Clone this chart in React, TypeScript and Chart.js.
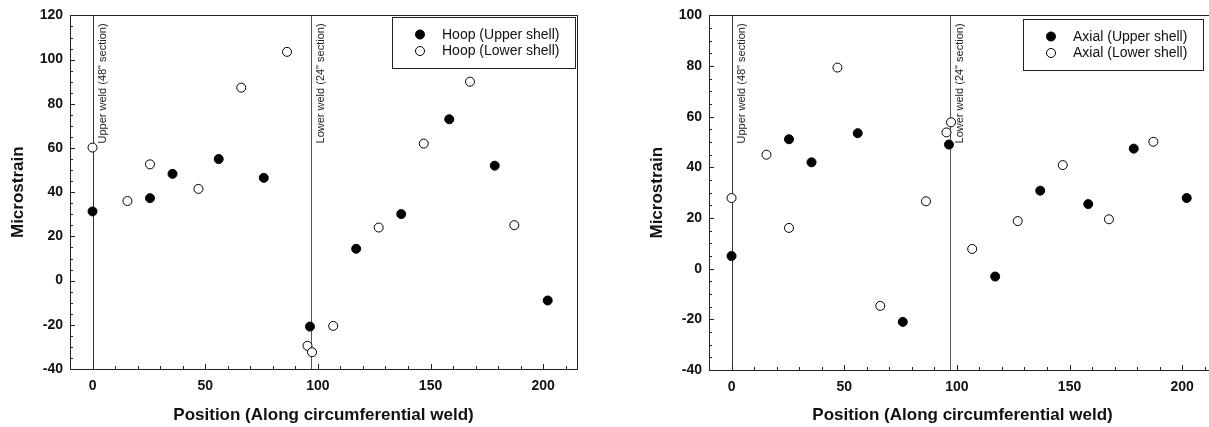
import React, { useEffect, useRef } from "react";
import { Chart, registerables } from "chart.js";

Chart.register(...registerables);

// ---- Data ----
const upperShellPositions = [0, 25.5, 35.5, 56, 76, 96.5, 117, 137, 158.3, 178.5, 202];
const lowerShellPositions = [0, 15.5, 25.5, 47, 66, 86.3, 95.4, 97.4, 106.8, 127, 147, 167.5, 187.2];

const hoopUpper = [31.3, 37.3, 48.3, 55, 46.5, -20.8, 14.4, 30.1, 73, 52, -9];
const hoopLower = [60.2, 36, 52.6, 41.5, 87.3, 103.5, -29.5, -32.4, -20.5, 24, 62, 90, 25.1];

const axialUpper = [5, 51.1, 42, 53.5, -21, 49, -3.1, 30.8, 25.5, 47.4, 27.9];
const axialLower = [27.9, 45, 16.1, 79.4, -14.7, 26.6, 53.8, 57.8, 7.8, 18.8, 40.9, 19.5, 50.1];

const weldPositions = [0, 96.9];
const weldLabels = ['Upper weld (48" section)', 'Lower weld (24" section)'];

const xTickValues = [0, 50, 100, 150, 200];
const hoopYTicks = [-40, -20, 0, 20, 40, 60, 80, 100, 120];
const axialYTicks = [-40, -20, 0, 20, 40, 60, 80, 100];

const hoopLabels = ["Hoop (Upper shell)", "Hoop (Lower shell)"];
const axialLabels = ["Axial (Upper shell)", "Axial (Lower shell)"];

const xTitle = "Position (Along circumferential weld)";
const yTitle = "Microstrain";

const FONT = "'Liberation Sans', Arial, Helvetica, sans-serif";
const INK = "#111";

type ChartProps = {
  upper: number[];
  lower: number[];
  labels: string[];
  yTicks: number[];
  padTop: number;
  xHeight: number;
  legendLeft: number;
  legendTop: number;
};

const decorPlugin = {
  id: "decor",
  beforeDatasetsDraw(chart: any) {
    const { ctx, chartArea } = chart;
    const xs = chart.scales.x;
    ctx.save();
    weldPositions.forEach((w, i) => {
      const px = Math.round(xs.getPixelForValue(w)) + 0.5;
      ctx.strokeStyle = i === 0 ? "#333" : "#555";
      ctx.lineWidth = 1;
      ctx.beginPath();
      ctx.moveTo(px, chartArea.top);
      ctx.lineTo(px, chartArea.bottom);
      ctx.stroke();
      ctx.save();
      ctx.translate(px + 4, chartArea.top + 8);
      ctx.rotate(-Math.PI / 2);
      ctx.fillStyle = "#222";
      ctx.font = `11px ${FONT}`;
      ctx.textAlign = "right";
      ctx.textBaseline = "top";
      ctx.fillText(weldLabels[i], 0, 0);
      ctx.restore();
    });
    ctx.restore();
  },
  afterDraw(chart: any) {
    const { ctx, chartArea } = chart;
    const { left, right, top, bottom } = chartArea;
    const xs = chart.scales.x;
    const ys = chart.scales.y;
    ctx.save();
    ctx.strokeStyle = "#222";
    ctx.lineWidth = 1;
    // frame
    ctx.strokeRect(Math.round(left) + 0.5, Math.round(top) + 0.5, Math.round(right - left), Math.round(bottom - top));
    // x ticks (inside)
    for (let v = -10; v <= xs.max; v += 10) {
      if (v <= xs.min) continue;
      const px = Math.round(xs.getPixelForValue(v)) + 0.5;
      const len = v % 50 === 0 ? 5 : 3;
      ctx.beginPath();
      ctx.moveTo(px, bottom);
      ctx.lineTo(px, bottom - len);
      ctx.stroke();
    }
    // y ticks (inside)
    for (let v = ys.min; v <= ys.max; v += 5) {
      if (v <= ys.min || v >= ys.max) continue;
      const py = Math.round(ys.getPixelForValue(v)) + 0.5;
      const len = v % 20 === 0 ? 5 : 3;
      ctx.beginPath();
      ctx.moveTo(left, py);
      ctx.lineTo(left + len, py);
      ctx.stroke();
    }
    // legend
    const opts = chart.options.plugins.decor;
    ctx.font = `14px ${FONT}`;
    const ds = chart.data.datasets;
    let maxW = 0;
    ds.forEach((d: any) => {
      maxW = Math.max(maxW, ctx.measureText(d.label).width);
    });
    const bx = opts.legendLeft;
    const by = opts.legendTop;
    const bw = Math.round(maxW + 66);
    const bh = 51;
    ctx.fillStyle = "#fff";
    ctx.fillRect(bx, by, bw, bh);
    ctx.strokeStyle = "#222";
    ctx.strokeRect(bx + 0.5, by + 0.5, bw, bh);
    ds.forEach((d: any, i: number) => {
      const cy = by + 17.5 + i * 16.5;
      ctx.beginPath();
      ctx.arc(bx + 28, cy, 4.5, 0, Math.PI * 2);
      ctx.fillStyle = d.backgroundColor;
      ctx.fill();
      ctx.strokeStyle = d.borderColor;
      ctx.lineWidth = 1;
      ctx.stroke();
      ctx.fillStyle = INK;
      ctx.textAlign = "left";
      ctx.textBaseline = "middle";
      ctx.fillText(d.label, bx + 50, cy + 0.5);
    });
    ctx.restore();
  },
};

function StrainChart(props: ChartProps) {
  const ref = useRef<HTMLCanvasElement | null>(null);
  useEffect(() => {
    if (!ref.current) return;
    const toPts = (xs: number[], ys: number[]) => xs.map((x, i) => ({ x, y: ys[i] }));
    const tickFont = { family: FONT, size: 14, weight: "bold" as const };
    const titleFont = { family: FONT, size: 17, weight: "bold" as const };
    const chart = new Chart(ref.current, {
      type: "scatter",
      data: {
        datasets: [
          {
            label: props.labels[0],
            data: toPts(upperShellPositions, props.upper),
            backgroundColor: "#000",
            borderColor: "#000",
            borderWidth: 1,
            pointRadius: 4.5,
          },
          {
            label: props.labels[1],
            data: toPts(lowerShellPositions, props.lower),
            backgroundColor: "#fff",
            borderColor: "#000",
            borderWidth: 1,
            pointRadius: 4.5,
          },
        ],
      },
      options: {
        animation: false,
        responsive: false,
        devicePixelRatio: 1,
        layout: { padding: { top: props.padTop, right: 62, left: 0, bottom: 0 } },
        plugins: {
          legend: { display: false },
          tooltip: { enabled: false },
          decor: { legendLeft: props.legendLeft, legendTop: props.legendTop },
        } as any,
        scales: {
          x: {
            type: "linear",
            min: -10,
            max: 215,
            afterBuildTicks: (s: any) => {
              s.ticks = xTickValues.map((v) => ({ value: v }));
            },
            afterFit: (s: any) => {
              s.height = props.xHeight;
            },
            grid: { display: false, drawTicks: false },
            border: { display: false },
            ticks: { padding: 9, color: INK, font: tickFont, maxRotation: 0, autoSkip: false },
            title: { display: true, text: xTitle, color: INK, font: titleFont, padding: { top: 0, bottom: 1 } },
          },
          y: {
            type: "linear",
            min: props.yTicks[0],
            max: props.yTicks[props.yTicks.length - 1],
            afterBuildTicks: (s: any) => {
              s.ticks = props.yTicks.map((v) => ({ value: v }));
            },
            afterFit: (s: any) => {
              s.width = 70;
            },
            grid: { display: false, drawTicks: false },
            border: { display: false },
            ticks: { padding: 7, color: INK, font: tickFont, autoSkip: false },
            title: { display: true, text: yTitle, color: INK, font: titleFont, padding: { top: 8, bottom: 0 } },
          },
        },
      },
      plugins: [decorPlugin],
    });
    return () => chart.destroy();
  }, []);
  return <canvas ref={ref} width={639} height={427} style={{ display: "block", width: 639, height: 427 }} />;
}

export default function App() {
  return (
    <div style={{ position: "fixed", left: 0, top: 0, width: 1209, height: 427, overflow: "hidden", background: "#fff" }}>
      <div style={{ position: "absolute", left: 0, top: 0, width: 639, height: 427 }}>
        <StrainChart upper={hoopUpper} lower={hoopLower} labels={hoopLabels} yTicks={hoopYTicks} padTop={14} xHeight={58} legendLeft={392} legendTop={17} />
      </div>
      <div style={{ position: "absolute", left: 639, top: 0, width: 639, height: 427 }}>
        <StrainChart upper={axialUpper} lower={axialLower} labels={axialLabels} yTicks={axialYTicks} padTop={15} xHeight={57} legendLeft={384} legendTop={19} />
      </div>
    </div>
  );
}
